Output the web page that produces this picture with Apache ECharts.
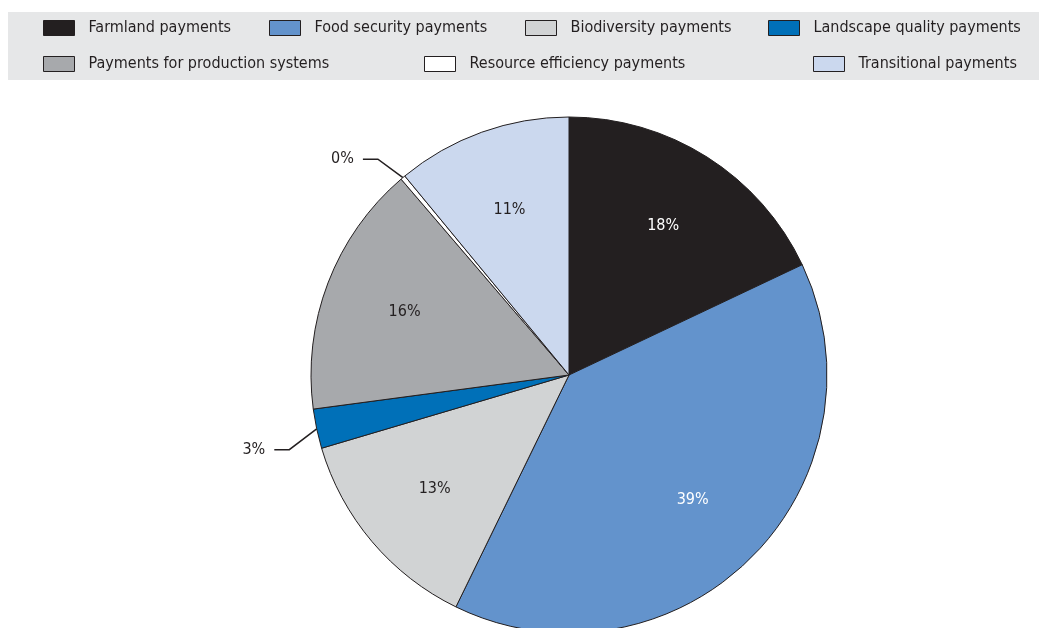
<!DOCTYPE html>
<html><head><meta charset="utf-8">
<script src="https://cdn.jsdelivr.net/npm/echarts@6/dist/echarts.min.js"></script>
<style>html,body{margin:0;padding:0;background:#fff}#c{width:1039px;height:628px}</style>
</head><body><div id="c"></div>
<script>
const categories = ['Farmland payments','Food security payments','Biodiversity payments','Landscape quality payments','Payments for production systems','Resource efficiency payments','Transitional payments'];
const shares = [17.97, 39.25, 13.2, 2.47, 15.83, 0.3, 10.98];
const shareLabels = ['18%','39%','13%','3%','16%','0%','11%'];
const colors = ['#231f20','#6393cc','#d1d3d4','#0070b8','#a7a9ac','#ffffff','#cbd8ee'];
const labelColors = ['#ffffff','#ffffff','#231f20','#231f20','#231f20','#231f20','#231f20'];
const outsideLabel = [false,false,false,true,false,true,false];

const FONT = '"Liberation Sans Narrow", "DejaVu Sans Condensed", sans-serif';
const FS = 16;
const legendPos = [[43,20],[269,20],[525,20],[768,20],[43,56],[424,56],[813,56]];
const leaderShift = {3:[0,15], 5:[-7,3]};

const legends = categories.map((name,i)=>({
  data:[name], left:legendPos[i][0], top:legendPos[i][1], padding:0,
  itemWidth:31, itemHeight:15, selectedMode:false, icon:'rect',
  itemStyle:{borderColor:'#231f20', borderWidth:1},
  textStyle:{fontFamily:FONT, fontSize:FS, color:'#231f20', lineHeight:16, padding:[0,0,0,9]}
}));

const chart = echarts.init(document.getElementById('c'), null, {renderer:'canvas'});
chart.setOption({
  animation:false,
  backgroundColor:'#ffffff',
  graphic:[{type:'rect', z:-10, silent:true, shape:{x:8,y:12,width:1031,height:68}, style:{fill:'#e6e7e8'}}],
  legend: legends,
  series:[{
    type:'pie', center:[569,375], radius:258, startAngle:90, clockwise:true,
    avoidLabelOverlap:false, silent:true, emphasis:{disabled:true},
    itemStyle:{borderColor:'#231f20', borderWidth:1},
    label:{show:false, position:'outside', color:'#231f20', fontFamily:FONT, fontSize:FS, distanceToLabelLine:9,
      formatter:p=>shareLabels[p.dataIndex]},
    labelLine:{show:true, length:28, length2:15, smooth:false, lineStyle:{color:'#231f20', width:1.5}},
    labelLayout:function(p){
      const s = leaderShift[p.dataIndex];
      if (!s || !p.labelLinePoints) return {};
      const pts = p.labelLinePoints.map((q,k)=> k===0 ? [q[0],q[1]] : [q[0]+s[0], q[1]+s[1]]);
      return {dx:s[0], dy:s[1], labelLinePoints:pts};
    },
    data: categories.map((name,i)=>({name, value:shares[i], itemStyle:{color:colors[i]},
      label:{show:outsideLabel[i]}, labelLine:{show:outsideLabel[i]}}))
  },{
    type:'pie', center:[569,375], radius:[88,258], startAngle:90, clockwise:true,
    avoidLabelOverlap:false, silent:true, emphasis:{disabled:true},
    itemStyle:{color:'rgba(0,0,0,0)', borderWidth:0},
    label:{show:true, position:'inside', fontFamily:FONT, fontSize:FS,
      formatter:p=>shareLabels[p.dataIndex]},
    labelLine:{show:false},
    data: categories.map((name,i)=>({name, value:shares[i],
      label:{show:!outsideLabel[i], color:labelColors[i]}}))
  }]
});
</script></body></html>
